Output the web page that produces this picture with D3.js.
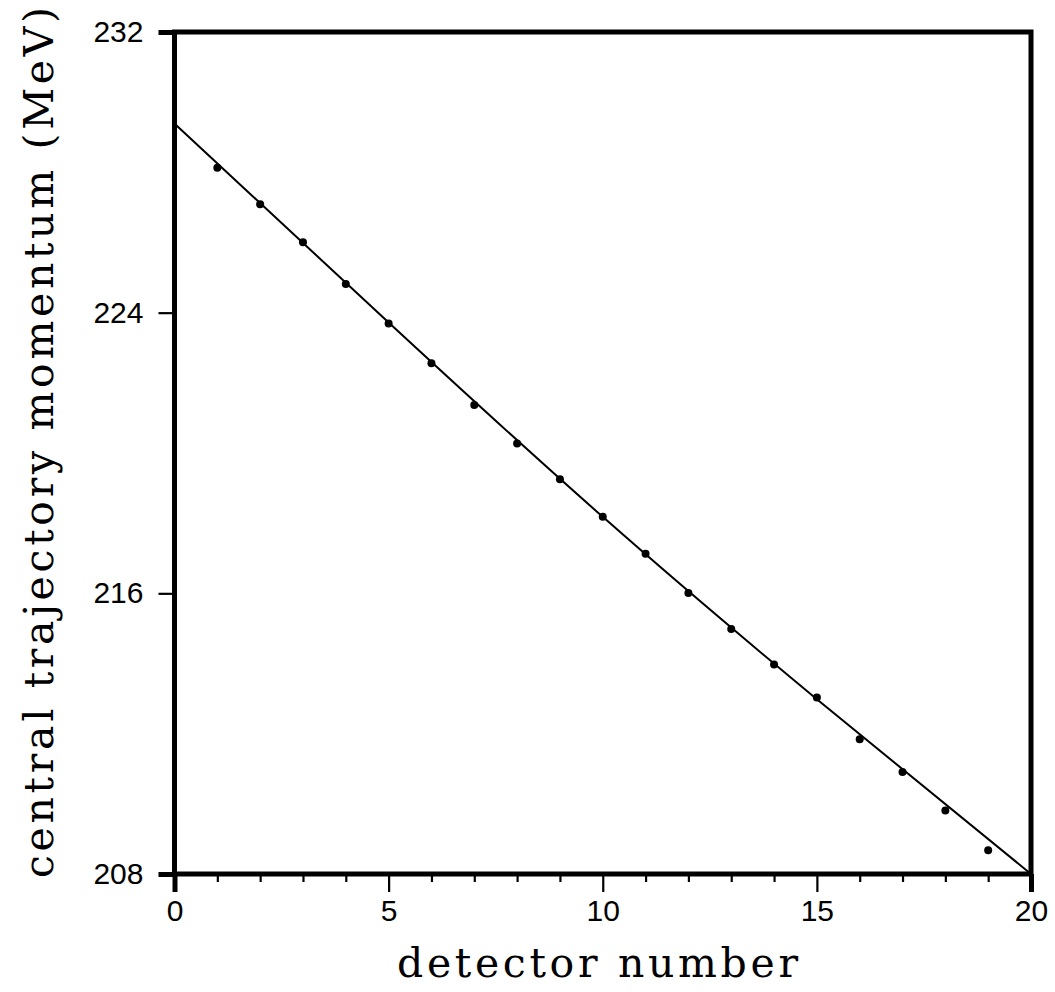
<!DOCTYPE html>
<html>
<head>
<meta charset="utf-8">
<script src="https://cdn.jsdelivr.net/npm/d3@7"></script>
<style>
  html, body { margin: 0; padding: 0; background: #fff; }
  svg { display: block; }
</style>
</head>
<body>
<svg id="chart" width="1055" height="992"></svg>
<script>
// ---- data ----
const detectors = [1, 2, 3, 4, 5, 6, 7, 8, 9, 10, 11, 12, 13, 14, 15, 16, 17, 18, 19];
const momentum = [228.13, 227.09, 226.01, 224.82, 223.69, 222.56, 221.37, 220.27, 219.25,
                  218.18, 217.13, 216.01, 214.98, 213.97, 213.03, 211.84, 210.91, 209.81, 208.68];
// fitted curve read at a few detector positions
const fitX = [0, 5, 10, 15, 20];
const fitY = [229.39, 223.72, 218.18, 212.98, 208.0];
const xMajorTicks = [0, 5, 10, 15, 20];
const xMinorTicks = [1, 2, 3, 4, 6, 7, 8, 9, 11, 12, 13, 14, 16, 17, 18, 19];
const yTicks = [208, 216, 224, 232];
const xTitle = "detector number";
const yTitle = "central trajectory momentum (MeV)";

// ---- layout ----
const L = 174.5, R = 1031, T = 32, B = 874;
const svg = d3.select("#chart");
svg.append("rect").attr("width", 1055).attr("height", 992).attr("fill", "#fff");

const x = d3.scaleLinear().domain([0, 20]).range([L, R]);
const y = d3.scaleLinear().domain([208, 232]).range([B, T]);

const tickFont = "'Liberation Sans', Arial, Helvetica, sans-serif";
const titleFont = "'DejaVu Serif', 'Liberation Serif', serif";

// minor x ticks
const gMinor = svg.append("g").attr("transform", `translate(0,${B})`)
  .call(d3.axisBottom(x).tickValues(xMinorTicks).tickSize(8).tickFormat(""));
gMinor.select(".domain").remove();
gMinor.selectAll(".tick line").attr("stroke", "#000").attr("stroke-width", 2.2);

// major x ticks
const gX = svg.append("g").attr("transform", `translate(0,${B})`)
  .call(d3.axisBottom(x).tickValues(xMajorTicks).tickSize(18).tickPadding(8).tickFormat(d3.format("d")));
gX.select(".domain").remove();
gX.selectAll(".tick line").attr("stroke", "#000")
  .attr("stroke-width", d => (d === 0 || d === 20) ? 5 : 2.2);
gX.selectAll(".tick text").attr("fill", "#000")
  .style("font-family", tickFont).style("font-size", "30px");

// y ticks
const gY = svg.append("g").attr("transform", `translate(${L},0)`)
  .call(d3.axisLeft(y).tickValues(yTicks).tickSize(16).tickPadding(15).tickFormat(d3.format("d")));
gY.select(".domain").remove();
gY.selectAll(".tick line").attr("stroke", "#000")
  .attr("stroke-width", d => (d === 208 || d === 232) ? 5 : 2.2);
gY.selectAll(".tick text").attr("fill", "#000")
  .style("font-family", tickFont).style("font-size", "30px");

// frame
svg.append("rect")
  .attr("x", L).attr("y", T).attr("width", R - L).attr("height", B - T)
  .attr("fill", "none").attr("stroke", "#000").attr("stroke-width", 5);

// fitted curve
const fitData = fitX.map((d, i) => [d, fitY[i]]);
svg.append("path")
  .datum(fitData)
  .attr("fill", "none").attr("stroke", "#000").attr("stroke-width", 2)
  .attr("d", d3.line().x(d => x(d[0])).y(d => y(d[1])).curve(d3.curveNatural));

// measured points
svg.append("g").selectAll("circle")
  .data(detectors.map((d, i) => [d, momentum[i]]))
  .join("circle")
  .attr("cx", d => x(d[0])).attr("cy", d => y(d[1]))
  .attr("r", 4).attr("fill", "#000");

// titles
svg.append("text")
  .attr("x", 397).attr("y", 977)
  .attr("textLength", 401).attr("lengthAdjust", "spacing")
  .style("font-family", titleFont).style("font-size", "41px")
  .attr("fill", "#000")
  .text(xTitle);

svg.append("text")
  .attr("transform", "translate(53,878) rotate(-90)")
  .attr("x", 0).attr("y", 0)
  .attr("textLength", 871).attr("lengthAdjust", "spacing")
  .style("font-family", titleFont).style("font-size", "41px")
  .attr("fill", "#000")
  .text(yTitle);
</script>
</body>
</html>
